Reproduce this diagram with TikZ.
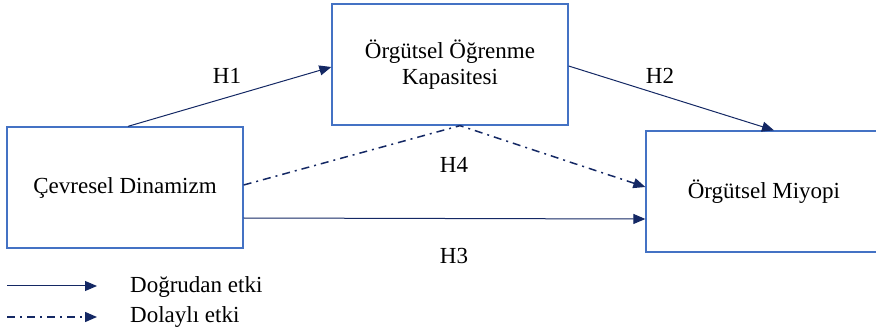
\documentclass[tikz,border=0pt]{standalone}
\usepackage{fontspec}
\setmainfont{Liberation Serif}
\usetikzlibrary{arrows.meta}
\definecolor{boxblue}{RGB}{68,114,196}
\definecolor{navy}{RGB}{20,40,100}
\begin{document}
\begin{tikzpicture}[x=1pt,y=-1pt,
 box/.style={draw=boxblue,line width=1.3pt,minimum width=236pt,minimum height=121pt,inner sep=0pt,align=center,font=\fontsize{23}{26}\selectfont},
 lbl/.style={font=\fontsize{23}{26}\selectfont,inner sep=0pt},
 conn/.style={draw=navy,line width=1pt,-{Triangle[length=12pt,width=10pt]}},
 dd/.style={line width=1.5pt,dash pattern=on 8pt off 5pt on 2pt off 5pt}]
\useasboundingbox (0,0) rectangle (876,331);
\clip (0,0) rectangle (876,331);
\node[box] (L) at (125,187.5) {Çevresel Dinamizm};
\node[box] (T) at (450,64.5) {Örgütsel Öğrenme\\Kapasitesi};
\node[box] (R) at (764,191.5) {Örgütsel Miyopi};
\draw[conn] ([xshift=3pt]L.north) -- ([yshift=-2.5pt]T.west);
\draw[conn] ([yshift=-1.5pt]T.east) -- ([xshift=10pt]R.north);
\draw[conn,dd] ([yshift=2.5pt]L.east) -- ([xshift=10pt]T.south) -- ([yshift=4.5pt]R.west);
\draw[conn] ([yshift=-30.5pt]L.east) -- ([yshift=-27.5pt]R.west);
\node[lbl] (h1) at (227,76) {H1};
\node[lbl] (h2) at (660,76) {H2};
\node[lbl] (h4) at (454,165) {H4};
\node[lbl] (h3) at (454,256) {H3};
\coordinate (a1) at (7,286);
\coordinate (a2) at (97,286);
\coordinate (b1) at (7,317);
\coordinate (b2) at (97,317);
\draw[conn] (a1) -- (a2);
\draw[conn,dd] (b1) -- (b2);
\node[lbl,anchor=base west] (t1) at (130,292) {Doğrudan etki};
\node[lbl,anchor=base west] (t2) at (130,323) {Dolaylı etki};
\end{tikzpicture}
\end{document}
